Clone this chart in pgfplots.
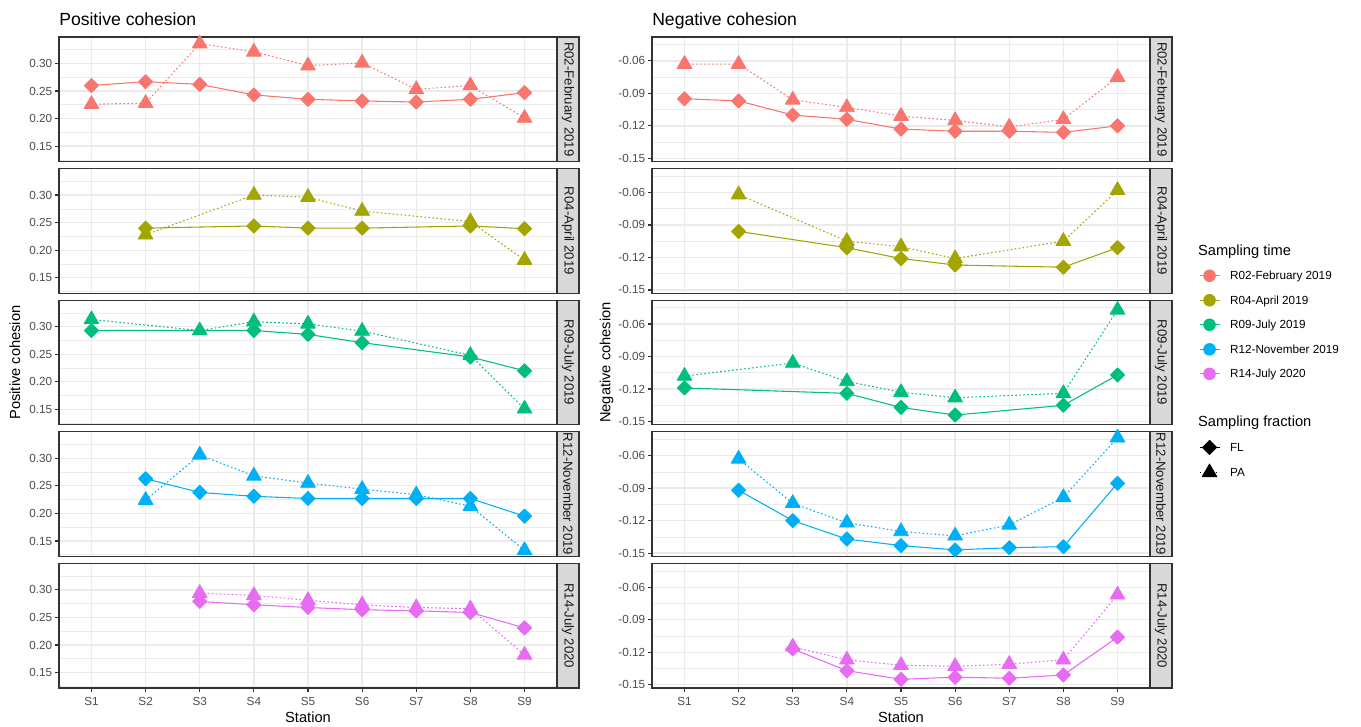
\documentclass[border=0pt]{standalone}
\usepackage{fontspec}
\setmainfont{Liberation Sans}
\usepackage{pgfplots}
\pgfplotsset{compat=1.18}
\definecolor{cR02}{HTML}{F8766D}
\definecolor{cR04}{HTML}{A3A500}
\definecolor{cR09}{HTML}{00BF7D}
\definecolor{cR12}{HTML}{00B0F6}
\definecolor{cR14}{HTML}{E76BF3}
\definecolor{grey10}{HTML}{1A1A1A}
\definecolor{grey20}{HTML}{333333}
\definecolor{grey30}{HTML}{4D4D4D}
\definecolor{grey85}{HTML}{D9D9D9}
\definecolor{grey92}{HTML}{EBEBEB}
\pgfplotsset{
  panel/.style={scale only axis, width=373.5pt, height=93.45pt, anchor=north west,
    xmin=0.4, xmax=9.6, xtick={1,2,3,4,5,6,7,8,9},
    tick align=outside, major tick length=2.75pt, minor tick length=0pt,
    xtick pos=bottom, ytick pos=left,
    tick style={grey20, line width=0.9pt},
    axis line style={grey20, line width=0.9pt},
    xmajorgrids, ymajorgrids, yminorgrids,
    major grid style={grey92, line width=1.0pt},
    minor grid style={grey92, line width=0.5pt},
    tick label style={font=\fontsize{8.8}{10}\selectfont, text=grey30, inner sep=0pt},
    yticklabel style={xshift=-2.2pt},
    xticklabel style={yshift=-4.4pt},
    clip mode=individual,
  },
  pos/.style={ymin=0.122, ymax=0.348, ytick={0.15,0.2,0.25,0.3}, yticklabels={0.15,0.20,0.25,0.30}, minor ytick={0.125,0.175,0.225,0.275,0.325}},
  neg/.style={ymin=-0.153, ymax=-0.038, ytick={-0.15,-0.12,-0.09,-0.06}, yticklabels={-0.15,-0.12,-0.09,-0.06}, minor ytick={-0.135,-0.105,-0.075,-0.045}},
  topx/.style={xticklabels={}, xtick style={draw=none}},
  botx/.style={xticklabels={S1,S2,S3,S4,S5,S6,S7,S8,S9}},
  strip/.style={after end axis/.append code={
      \draw[fill=grey85, draw=grey20, line width=0.9pt] (rel axis cs:1,0) rectangle ([xshift=16.5pt]rel axis cs:1,1);
      \node[rotate=-90, font=\fontsize{9.9}{11}\selectfont, text=grey10, inner sep=0pt] at ([xshift=8.25pt]rel axis cs:1,0.5) {#1};
  }},
  fl/.style={#1, line width=0.8pt, solid},
  pa/.style={#1, line width=0.8pt, dash pattern=on 1.2pt off 1.8pt},
  flm/.style={#1, only marks, mark=square*, mark size=3.7pt, mark options={rotate=45, solid, line width=0.8pt, line join=round}},
  pam/.style={#1, only marks, mark=triangle*, mark size=6.4pt, mark options={solid, line width=0.6pt, line join=round}},
}
\begin{document}
\begin{tikzpicture}
\path[use as bounding box] (0pt,0pt) rectangle (1020.75pt,-545.25pt);
% titles
\node[anchor=base west, inner sep=0pt, font=\fontsize{13.2}{15}\selectfont] at (44.25pt,-19.5pt) {Positive cohesion};
\node[anchor=base west, inner sep=0pt, font=\fontsize{13.2}{15}\selectfont] at (489pt,-19.5pt) {Negative cohesion};
\node[rotate=90, inner sep=0pt, font=\fontsize{11}{13}\selectfont] at (11.25pt,-271.9pt) {Positive cohesion};
\node[rotate=90, inner sep=0pt, font=\fontsize{11}{13}\selectfont] at (455pt,-271.9pt) {Negative cohesion};
\node[anchor=base, inner sep=0pt, font=\fontsize{11}{13}\selectfont] at (231pt,-542pt) {Station};
\node[anchor=base, inner sep=0pt, font=\fontsize{11}{13}\selectfont] at (675.75pt,-542pt) {Station};

% ===== Positive cohesion =====
\begin{axis}[panel, pos, topx, strip={R02-February 2019}, at={(44.25pt,-27.75pt)}]
\addplot[fl=cR02] coordinates {(1,0.260)(2,0.267)(3,0.262)(4,0.243)(5,0.235)(6,0.232)(7,0.230)(8,0.235)(9,0.247)};
\addplot[pa=cR02] coordinates {(1,0.226)(2,0.228)(3,0.336)(4,0.321)(5,0.296)(6,0.301)(7,0.253)(8,0.260)(9,0.201)};
\addplot[flm=cR02] coordinates {(1,0.260)(2,0.267)(3,0.262)(4,0.243)(5,0.235)(6,0.232)(7,0.230)(8,0.235)(9,0.247)};
\addplot[pam=cR02] coordinates {(1,0.226)(2,0.228)(3,0.336)(4,0.321)(5,0.296)(6,0.301)(7,0.253)(8,0.260)(9,0.201)};
\end{axis}
\begin{axis}[panel, pos, topx, strip={R04-April 2019}, at={(44.25pt,-126.45pt)}]
\addplot[fl=cR04] coordinates {(2,0.240)(4,0.244)(5,0.240)(6,0.240)(8,0.244)(9,0.239)};
\addplot[pa=cR04] coordinates {(2,0.228)(4,0.300)(5,0.296)(6,0.271)(8,0.252)(9,0.182)};
\addplot[flm=cR04] coordinates {(2,0.240)(4,0.244)(5,0.240)(6,0.240)(8,0.244)(9,0.239)};
\addplot[pam=cR04] coordinates {(2,0.228)(4,0.300)(5,0.296)(6,0.271)(8,0.252)(9,0.182)};
\end{axis}
\begin{axis}[panel, pos, topx, strip={R09-July 2019}, at={(44.25pt,-225.15pt)}]
\addplot[fl=cR09] coordinates {(1,0.293)(4,0.293)(5,0.286)(6,0.271)(8,0.245)(9,0.220)};
\addplot[pa=cR09] coordinates {(1,0.313)(3,0.293)(4,0.309)(5,0.305)(6,0.292)(8,0.248)(9,0.151)};
\addplot[flm=cR09] coordinates {(1,0.293)(4,0.293)(5,0.286)(6,0.271)(8,0.245)(9,0.220)};
\addplot[pam=cR09] coordinates {(1,0.313)(3,0.293)(4,0.309)(5,0.305)(6,0.292)(8,0.248)(9,0.151)};
\end{axis}
\begin{axis}[panel, pos, topx, strip={R12-November 2019}, at={(44.25pt,-323.85pt)}]
\addplot[fl=cR12] coordinates {(2,0.263)(3,0.238)(4,0.231)(5,0.227)(6,0.227)(7,0.227)(8,0.227)(9,0.195)};
\addplot[pa=cR12] coordinates {(2,0.224)(3,0.306)(4,0.268)(5,0.255)(6,0.244)(7,0.234)(8,0.213)(9,0.133)};
\addplot[flm=cR12] coordinates {(2,0.263)(3,0.238)(4,0.231)(5,0.227)(6,0.227)(7,0.227)(8,0.227)(9,0.195)};
\addplot[pam=cR12] coordinates {(2,0.224)(3,0.306)(4,0.268)(5,0.255)(6,0.244)(7,0.234)(8,0.213)(9,0.133)};
\end{axis}
\begin{axis}[panel, pos, botx, strip={R14-July 2020}, at={(44.25pt,-422.55pt)}]
\addplot[fl=cR14] coordinates {(3,0.279)(4,0.273)(5,0.268)(6,0.264)(7,0.262)(8,0.259)(9,0.231)};
\addplot[pa=cR14] coordinates {(3,0.294)(4,0.290)(5,0.281)(6,0.273)(7,0.268)(8,0.266)(9,0.182)};
\addplot[flm=cR14] coordinates {(3,0.279)(4,0.273)(5,0.268)(6,0.264)(7,0.262)(8,0.259)(9,0.231)};
\addplot[pam=cR14] coordinates {(3,0.294)(4,0.290)(5,0.281)(6,0.273)(7,0.268)(8,0.266)(9,0.182)};
\end{axis}

% ===== Negative cohesion =====
\begin{axis}[panel, neg, topx, strip={R02-February 2019}, at={(489pt,-27.75pt)}]
\addplot[fl=cR02] coordinates {(1,-0.095)(2,-0.097)(3,-0.110)(4,-0.114)(5,-0.123)(6,-0.125)(7,-0.125)(8,-0.126)(9,-0.120)};
\addplot[pa=cR02] coordinates {(1,-0.063)(2,-0.063)(3,-0.096)(4,-0.103)(5,-0.111)(6,-0.115)(7,-0.121)(8,-0.114)(9,-0.075)};
\addplot[flm=cR02] coordinates {(1,-0.095)(2,-0.097)(3,-0.110)(4,-0.114)(5,-0.123)(6,-0.125)(7,-0.125)(8,-0.126)(9,-0.120)};
\addplot[pam=cR02] coordinates {(1,-0.063)(2,-0.063)(3,-0.096)(4,-0.103)(5,-0.111)(6,-0.115)(7,-0.121)(8,-0.114)(9,-0.075)};
\end{axis}
\begin{axis}[panel, neg, topx, strip={R04-April 2019}, at={(489pt,-126.45pt)}]
\addplot[fl=cR04] coordinates {(2,-0.096)(4,-0.111)(5,-0.121)(6,-0.127)(8,-0.129)(9,-0.111)};
\addplot[pa=cR04] coordinates {(2,-0.062)(4,-0.105)(5,-0.110)(6,-0.121)(8,-0.105)(9,-0.058)};
\addplot[flm=cR04] coordinates {(2,-0.096)(4,-0.111)(5,-0.121)(6,-0.127)(8,-0.129)(9,-0.111)};
\addplot[pam=cR04] coordinates {(2,-0.062)(4,-0.105)(5,-0.110)(6,-0.121)(8,-0.105)(9,-0.058)};
\end{axis}
\begin{axis}[panel, neg, topx, strip={R09-July 2019}, at={(489pt,-225.15pt)}]
\addplot[fl=cR09] coordinates {(1,-0.119)(4,-0.124)(5,-0.137)(6,-0.144)(8,-0.135)(9,-0.107)};
\addplot[pa=cR09] coordinates {(1,-0.108)(3,-0.096)(4,-0.113)(5,-0.123)(6,-0.128)(8,-0.124)(9,-0.047)};
\addplot[flm=cR09] coordinates {(1,-0.119)(4,-0.124)(5,-0.137)(6,-0.144)(8,-0.135)(9,-0.107)};
\addplot[pam=cR09] coordinates {(1,-0.108)(3,-0.096)(4,-0.113)(5,-0.123)(6,-0.128)(8,-0.124)(9,-0.047)};
\end{axis}
\begin{axis}[panel, neg, topx, strip={R12-November 2019}, at={(489pt,-323.85pt)}]
\addplot[fl=cR12] coordinates {(2,-0.092)(3,-0.120)(4,-0.137)(5,-0.143)(6,-0.147)(7,-0.145)(8,-0.144)(9,-0.0855)};
\addplot[pa=cR12] coordinates {(2,-0.063)(3,-0.104)(4,-0.122)(5,-0.130)(6,-0.134)(7,-0.124)(8,-0.0985)(9,-0.0435)};
\addplot[flm=cR12] coordinates {(2,-0.092)(3,-0.120)(4,-0.137)(5,-0.143)(6,-0.147)(7,-0.145)(8,-0.144)(9,-0.0855)};
\addplot[pam=cR12] coordinates {(2,-0.063)(3,-0.104)(4,-0.122)(5,-0.130)(6,-0.134)(7,-0.124)(8,-0.0985)(9,-0.0435)};
\end{axis}
\begin{axis}[panel, neg, botx, strip={R14-July 2020}, at={(489pt,-422.55pt)}]
\addplot[fl=cR14] coordinates {(3,-0.117)(4,-0.137)(5,-0.145)(6,-0.143)(7,-0.144)(8,-0.141)(9,-0.106)};
\addplot[pa=cR14] coordinates {(3,-0.115)(4,-0.127)(5,-0.132)(6,-0.133)(7,-0.131)(8,-0.127)(9,-0.067)};
\addplot[flm=cR14] coordinates {(3,-0.117)(4,-0.137)(5,-0.145)(6,-0.143)(7,-0.144)(8,-0.141)(9,-0.106)};
\addplot[pam=cR14] coordinates {(3,-0.115)(4,-0.127)(5,-0.132)(6,-0.133)(7,-0.131)(8,-0.127)(9,-0.067)};
\end{axis}

% ===== Legend =====
\begin{axis}[hide axis, scale only axis, width=1pt, height=1pt, at={(899.25pt,-182.4pt)}, anchor=north west,
  xmin=0, xmax=1, ymin=0, ymax=1,
  legend cell align=left,
  legend style={at={(0,1)}, anchor=north west, draw=none, fill=none, inner sep=0pt, outer sep=0pt,
    row sep=6.4pt, nodes={inner sep=0pt, text height=9pt, text depth=3pt, font=\fontsize{8.8}{10}\selectfont},
    /tikz/every odd column/.append style={column sep=7.5pt}},
  legend image code/.code={\draw[mark repeat=2, mark phase=2, #1] plot coordinates {(0pt,0pt)(7.5pt,0pt)(15pt,0pt)};}]
\addlegendimage{empty legend}\addlegendentry{\hspace{-24pt}\fontsize{11}{13}\selectfont Sampling time}
\addlegendimage{cR02, line width=0.8pt, mark=*, mark size=4.3pt}\addlegendentry{R02-February 2019}
\addlegendimage{cR04, line width=0.8pt, mark=*, mark size=4.3pt}\addlegendentry{R04-April 2019}
\addlegendimage{cR09, line width=0.8pt, mark=*, mark size=4.3pt}\addlegendentry{R09-July 2019}
\addlegendimage{cR12, line width=0.8pt, mark=*, mark size=4.3pt}\addlegendentry{R12-November 2019}
\addlegendimage{cR14, line width=0.8pt, mark=*, mark size=4.3pt}\addlegendentry{R14-July 2020}
\addlegendimage{empty legend}\addlegendentry{}
\addlegendimage{empty legend}\addlegendentry{\hspace{-24pt}\fontsize{11}{13}\selectfont Sampling fraction}
\addlegendimage{black, line width=0.8pt, mark=square*, mark size=3.7pt, mark options={rotate=45, solid, line join=round}}\addlegendentry{FL}
\addlegendimage{black, line width=0.8pt, dash pattern=on 1.2pt off 1.8pt, mark=triangle*, mark size=6.4pt, mark options={solid, line width=0.6pt, line join=round}}\addlegendentry{PA}
\end{axis}
\end{tikzpicture}
\end{document}
